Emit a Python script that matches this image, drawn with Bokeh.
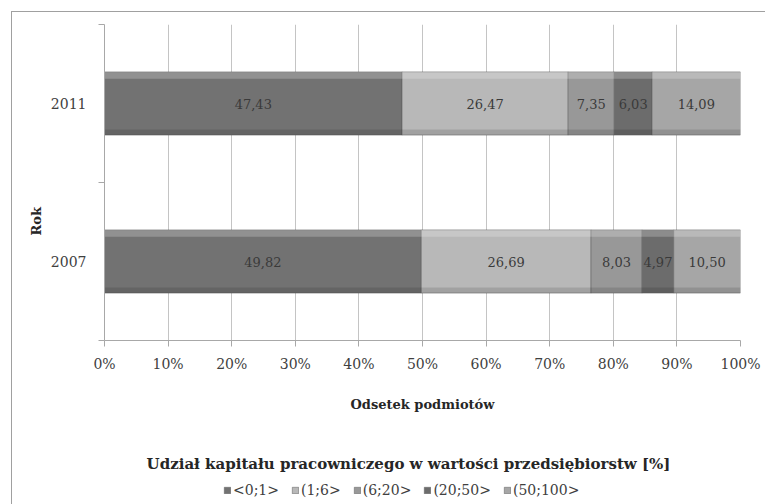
from bokeh.plotting import figure
from bokeh.layouts import column
from bokeh.models import (ColumnDataSource, FixedTicker, Legend, LegendItem, Label,
                          Title, InlineStyleSheet)
from bokeh.core.properties import value
from bokeh.embed import file_html
from bokeh.resources import INLINE

# Years and ownership-share classes
years = ["2007", "2011"]
classes = ["<0;1>", "(1;6>", "(6;20>", "(20;50>", "(50;100>"]

# Share of firms in each class (raw values as published, per year)
values_2007 = [49.82, 26.69, 8.03, 4.97, 10.50]
values_2011 = [47.43, 26.47, 7.35, 6.03, 14.09]

x_ticks = [0, 10, 20, 30, 40, 50, 60, 70, 80, 90, 100]

colors = ["#727272", "#b8b8b8", "#989898", "#6c6c6c", "#a6a6a6"]

SERIF = "DejaVu Serif"

rows = [values_2007, values_2011]
y_pos = [0.5, 1.5]

# 100% stacked: each row scaled to its own total
norm = [[v * 100.0 / sum(r) for v in r] for r in rows]
fields = ["s%d" % i for i in range(len(classes))]
data = {"y": y_pos}
for i, f in enumerate(fields):
    data[f] = [n[i] for n in norm]
src = ColumnDataSource(data)

p = figure(width=765, height=440, x_range=(0, 100), y_range=(0, 2),
           output_backend="svg", toolbar_location=None,
           min_border_left=104, min_border_right=25,
           min_border_top=24, min_border_bottom=100)
p.outline_line_color = None
p.background_fill_color = "white"
p.border_fill_color = "white"

p.hbar_stack(fields, y="y", height=0.4, color=colors, source=src,
             line_color="#5a5a5a", line_alpha=0.5, line_width=1)

# bevel shading on the bar segments
BAR_H = 0.4
for r_vals, y in zip(norm, y_pos):
    lefts, rights = [], []
    acc = 0.0
    for v in r_vals:
        lefts.append(acc)
        acc += v
        rights.append(acc)
    p.hbar(y=[y + BAR_H / 2 - 0.022] * len(lefts), left=lefts, right=rights,
           height=0.044, color="white", alpha=0.22, line_color=None)
    p.hbar(y=[y - BAR_H / 2 + 0.018] * len(lefts), left=lefts, right=rights,
           height=0.036, color="black", alpha=0.12, line_color=None)

# value labels centred in each segment
lx, ly, lt = [], [], []
for raw, r_vals, y in zip(rows, norm, y_pos):
    acc = 0.0
    for rv, v in zip(raw, r_vals):
        lx.append(acc + v / 2)
        ly.append(y)
        lt.append(("%.2f" % rv).replace(".", ","))
        acc += v
p.text(x=lx, y=ly, text=lt, text_align="center", text_baseline="middle",
       text_font=value(SERIF), text_font_size="13px", text_color="#3a3a3a")

# x axis
p.xaxis.ticker = FixedTicker(ticks=x_ticks)
p.xaxis.major_label_overrides = {t: "%d%%" % t for t in x_ticks}
p.xaxis.axis_label = "Odsetek podmiotów"
p.xaxis.axis_label_text_font = SERIF
p.xaxis.axis_label_text_font_style = "bold"
p.xaxis.axis_label_text_font_size = "13px"
p.xaxis.axis_label_text_color = "#262626"
p.xaxis.axis_label_standoff = 22
p.xaxis.major_label_text_font = SERIF
p.xaxis.major_label_text_font_size = "14px"
p.xaxis.major_label_text_color = "#404040"
p.xaxis.major_label_standoff = 9
p.xaxis.major_tick_out = 6
p.xaxis.major_tick_in = 0
p.xaxis.minor_tick_out = 0
p.xaxis.minor_tick_in = 0

# y axis: ticks between categories, labels at category centres
p.yaxis.ticker = FixedTicker(ticks=y_pos, minor_ticks=[0, 1, 2])
p.yaxis.major_label_overrides = {0.5: years[0], 1.5: years[1]}
p.yaxis.major_label_text_font = SERIF
p.yaxis.major_label_text_font_size = "14px"
p.yaxis.major_label_text_color = "#404040"
p.yaxis.major_label_standoff = 12
p.yaxis.major_tick_out = 0
p.yaxis.major_tick_in = 0
p.yaxis.minor_tick_out = 6
p.yaxis.minor_tick_in = 0

# y axis title, set a little below the middle of the axis
p.add_layout(Title(text="Rok", align="left", offset=105, standoff=8,
                   text_font=SERIF, text_font_style="bold",
                   text_font_size="13px", text_color="#262626"), "left")

for ax in (p.xaxis, p.yaxis):
    ax.axis_line_color = "#a8a8a8"
    ax.major_tick_line_color = "#a8a8a8"
    ax.minor_tick_line_color = "#a8a8a8"

p.xgrid.ticker = FixedTicker(ticks=x_ticks)
p.xgrid.grid_line_color = "#c4c4c4"
p.ygrid.grid_line_color = None

# legend strip underneath the chart: same series, drawn off-range so only
# their legend swatches show (its frame lines up with the chart frame)
leg = figure(width=765, height=64, x_range=(0, 100), y_range=(10, 11),
             output_backend="svg", toolbar_location=None,
             x_axis_location=None, y_axis_location=None,
             min_border_left=0, min_border_right=0,
             min_border_top=0, min_border_bottom=0)
leg.outline_line_color = None
leg.grid.grid_line_color = None
leg.background_fill_color = "white"
leg.border_fill_color = "white"
leg_renderers = leg.hbar_stack(fields, y="y", height=0.4, color=colors, source=src,
                               line_color="#5a5a5a", line_alpha=0.5)

leg.add_layout(Label(x=304, y=41, x_units="screen", y_units="screen",
                     text="Udział kapitału pracowniczego w wartości przedsiębiorstw [%]",
                     text_align="center", text_baseline="middle",
                     text_font=SERIF, text_font_style="bold",
                     text_font_size="15px", text_color="#262626"))

legend = Legend(items=[LegendItem(label=c, renderers=[r]) for c, r in zip(classes, leg_renderers)],
                orientation="horizontal", location=(119, 6),
                glyph_width=8, glyph_height=8, label_standoff=2, spacing=12,
                padding=0, margin=0, border_line_color=None,
                background_fill_alpha=0,
                label_text_font=SERIF, label_text_font_size="14px",
                label_text_color="#404040")
leg.add_layout(legend, "center")

layout = column(p, leg, spacing=0)
# thin grey frame around the whole chart area
layout.stylesheets = [InlineStyleSheet(css="""
:host { position: relative; }
:host::after {
  content: ""; position: absolute; left: 11px; top: 11px; right: 0; bottom: 0;
  border-top: 1.5px solid #a0a0a0; border-left: 1.5px solid #a0a0a0;
  pointer-events: none;
}
""")]

open("out.html", "w").write(file_html(layout, INLINE))
